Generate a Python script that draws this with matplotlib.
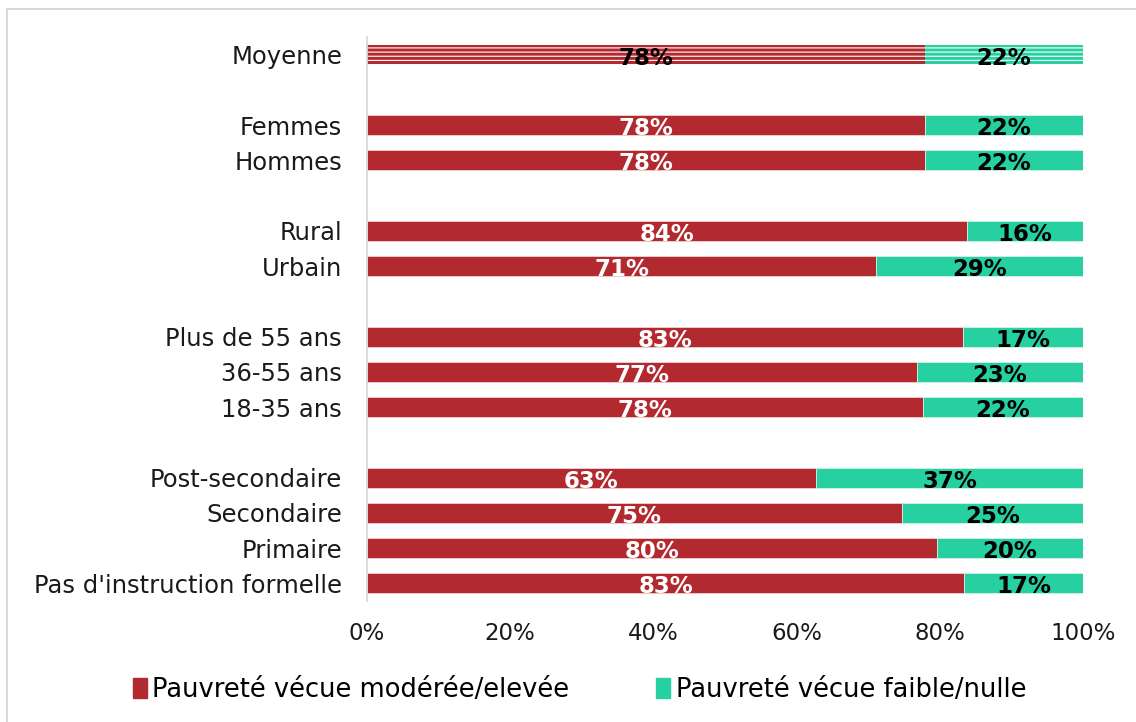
import matplotlib
matplotlib.use('Agg')
import matplotlib.pyplot as plt
import matplotlib.ticker as mticker
from matplotlib.patches import Rectangle

plt.rcParams.update({
    'font.family': ['DejaVu Sans'],
    'hatch.linewidth': 0.8,
})

# rows from top to bottom, '' = spacer row
CATEGORIES = ['Moyenne', '',
              'Femmes', 'Hommes', '',
              'Rural', 'Urbain', '',
              'Plus de 55 ans', '36-55 ans', '18-35 ans', '',
              'Post-secondaire', 'Secondaire', 'Primaire',
              "Pas d'instruction formelle"]
ELEVEE = [77.9, None,
          77.9, 77.9, None,
          83.8, 71.1, None,
          83.3, 76.8, 77.6, None,
          62.7, 74.7, 79.6, 83.4]
FAIBLE = [22.1, None,
          22.1, 22.1, None,
          16.2, 28.9, None,
          16.7, 23.2, 22.4, None,
          37.3, 25.3, 20.4, 16.6]
SERIES_LABELS = ['Pauvreté vécue modérée/elevée', 'Pauvreté vécue faible/nulle']
X_TICKS = [0, 20, 40, 60, 80, 100]

RED = '#B2292F'
GREEN = '#26D0A0'
BAR_H = 0.57

fig = plt.figure(figsize=(11.36, 7.22), dpi=100)
ax = fig.add_axes([367 / 1136, 1 - 601 / 722, 716 / 1136, 564 / 722])

for i, (cat, red, green) in enumerate(zip(CATEGORIES, ELEVEE, FAIBLE)):
    if red is None:
        continue
    avg = (i == 0)
    kw = dict(hatch='----', edgecolor='white', linewidth=0) if avg else \
        dict(edgecolor='#f2d0d2', linewidth=0.6)
    ax.barh(i, red, height=BAR_H, color=RED, **kw)
    kw2 = dict(hatch='----', edgecolor='white', linewidth=0) if avg else \
        dict(edgecolor='#d0f2e8', linewidth=0.6)
    ax.barh(i, green, left=red, height=BAR_H, color=GREEN, **kw2)
    ax.text(red / 2, i + 0.1, f'{red:.0f}%', ha='center', va='center',
            fontsize=16.5, fontweight='bold',
            color='black' if avg else 'white')
    ax.text(red + green / 2, i + 0.1, f'{green:.0f}%', ha='center', va='center',
            fontsize=16.5, fontweight='bold', color='black')

ax.set_ylim(len(CATEGORIES) - 0.5, -0.5)
ax.set_xlim(0, 100)
ax.set_yticks(range(len(CATEGORIES)))
ax.set_yticklabels(CATEGORIES, fontsize=17.5, color='#1a1a1a')
ax.set_xticks(X_TICKS)
ax.xaxis.set_major_formatter(mticker.FuncFormatter(lambda v, p: f'{v:.0f}%'))
ax.tick_params(axis='x', length=0, pad=15, labelsize=16.5, labelcolor='#1a1a1a')
ax.tick_params(axis='y', length=0, pad=18)
for side in ('top', 'right', 'bottom'):
    ax.spines[side].set_visible(False)
ax.spines['left'].set_color('#D9D9D9')
ax.spines['left'].set_linewidth(1.3)

handles = [Rectangle((0, 0), 1, 1, color=RED), Rectangle((0, 0), 1, 1, color=GREEN)]
fig.legend(handles, SERIES_LABELS, loc='center', bbox_to_anchor=(0.51, 1 - 690 / 722),
           ncol=2, frameon=False, fontsize=18.5, handlelength=0.55, handleheight=0.8,
           handletextpad=0.2, columnspacing=3.4)

# light outer frame of the chart area
fig.patches.append(Rectangle((7 / 1136, -0.5), 2, 1.5 - 8.5 / 722,
                             transform=fig.transFigure, fill=False,
                             edgecolor='#D9D9D9', linewidth=1.5))

fig.savefig('out.png', dpi=100)
